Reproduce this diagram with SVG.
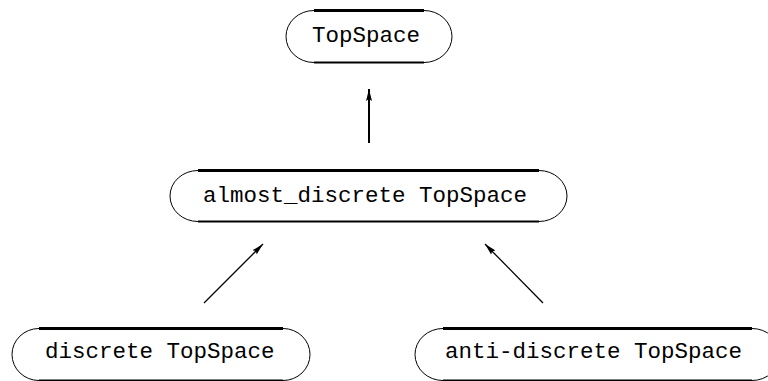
<svg xmlns="http://www.w3.org/2000/svg" width="768" height="381" viewBox="0 0 768 381">
<defs>
<style>
.top{fill:none;stroke:#000;stroke-width:3}
.bot{fill:none;stroke:#000;stroke-width:1.8}
.arc{fill:none;stroke:#000;stroke-width:1}
.lbl{font-family:"Liberation Mono","DejaVu Sans Mono",monospace;font-size:22.5px;fill:#000}
.edge{fill:none;stroke:#000;stroke-width:1.3}
</style>
<marker id="ah" markerUnits="userSpaceOnUse" markerWidth="14" markerHeight="10" refX="12" refY="4" orient="auto">
<path d="M0,1 L12,4 L0,7 L2,4 Z" fill="#000"/>
</marker>
</defs>
<rect width="768" height="381" fill="#fff"/>
<g id="edges">
<line class="edge" x1="369" y1="143" x2="369" y2="89" style="stroke-width:2" marker-end="url(#ah)"/>
<line class="edge" x1="204" y1="303" x2="263" y2="244" marker-end="url(#ah)"/>
<line class="edge" x1="543" y1="303" x2="485" y2="244" marker-end="url(#ah)"/>
</g>
<g id="n-topspace">
<path class="top" d="M314,10.5 H424"/>
<path class="bot" d="M314,62.5 H424"/>
<path class="arc" d="M314,10.5 A28,26 0 0 0 286,36.5 A28,26 0 0 0 314,62.5 M424,10.5 A28,26 0 0 1 452,36.5 A28,26 0 0 1 424,62.5"/>
<text class="lbl" x="312" y="42">TopSpace</text>
</g>
<g id="n-almost">
<path class="top" d="M198,170.5 H539"/>
<path class="bot" d="M198,221.5 H539"/>
<path class="arc" d="M198,170.5 A28,25.5 0 0 0 170,196 A28,25.5 0 0 0 198,221.5 M539,170.5 A28,25.5 0 0 1 567,196 A28,25.5 0 0 1 539,221.5"/>
<text class="lbl" x="203" y="202">almost_discrete TopSpace</text>
</g>
<g id="n-discrete">
<path class="top" d="M39,328.5 H283"/>
<path class="bot" d="M39,380.5 H283"/>
<path class="arc" d="M39,328.5 A27,26 0 0 0 12,354.5 A27,26 0 0 0 39,380.5 M283,328.5 A27,26 0 0 1 310,354.5 A27,26 0 0 1 283,380.5"/>
<text class="lbl" x="45" y="358">discrete TopSpace</text>
</g>
<g id="n-anti">
<path class="top" d="M443,328.5 H752"/>
<path class="bot" d="M443,380.5 H752"/>
<path class="arc" d="M443,328.5 A28,26 0 0 0 415,354.5 A28,26 0 0 0 443,380.5 M752,328.5 A28,26 0 0 1 780,354.5 A28,26 0 0 1 752,380.5"/>
<text class="lbl" x="445" y="358">anti-discrete TopSpace</text>
</g>
</svg>
